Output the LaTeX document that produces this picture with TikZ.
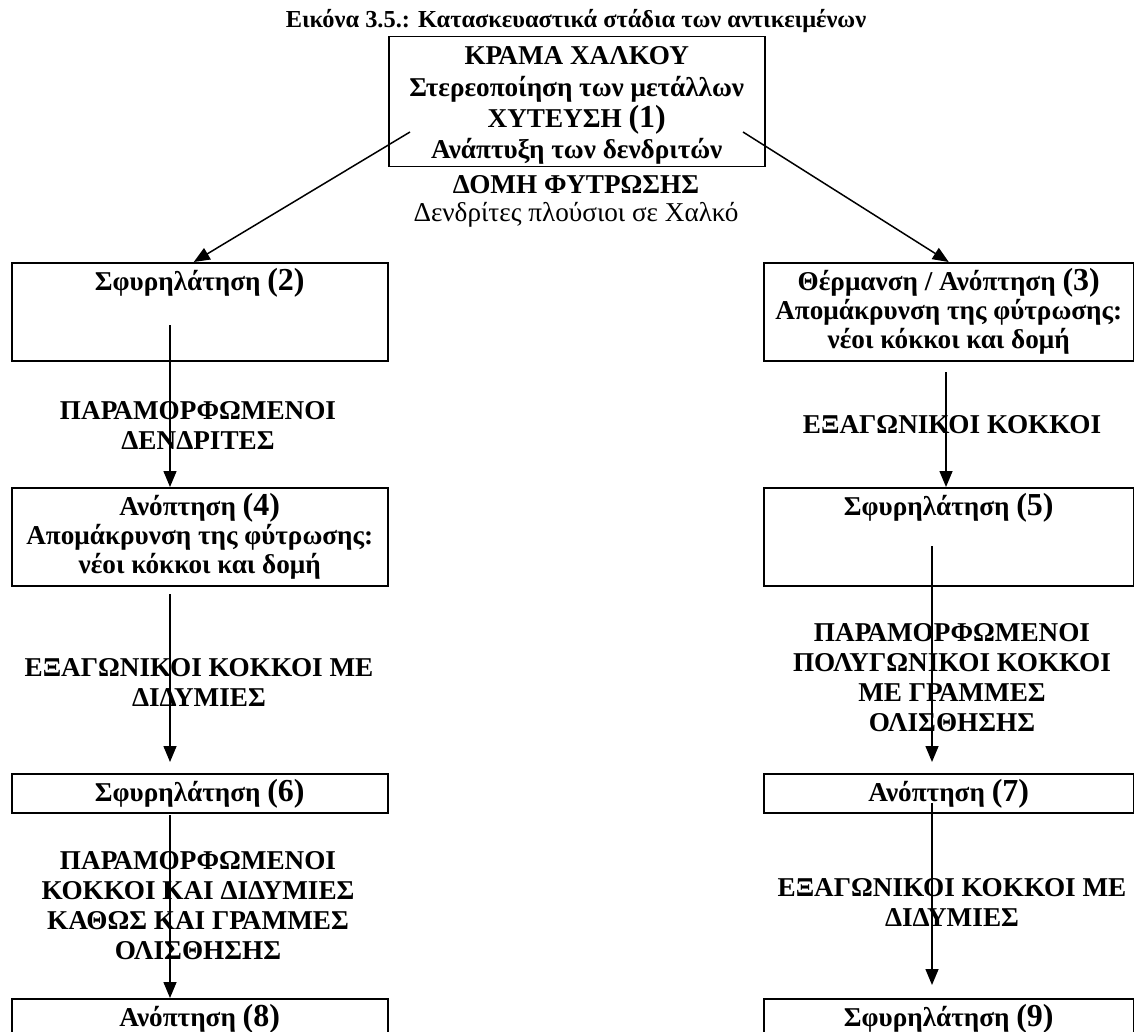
\documentclass[tikz,border=0pt]{standalone}
\usepackage{fontspec}
\setmainfont{Liberation Serif}
\usetikzlibrary{arrows.meta}

\newcommand{\nr}[1]{{\fontsize{16}{16}\selectfont #1}}
\newcommand{\stagebox}[3]{\parbox[c][#2][t]{#1}{\centering\rule{0pt}{14pt}#3}}

\tikzset{
  stage/.style={draw, line width=0.75pt, inner sep=0pt, anchor=north west,
    font=\fontsize{13.6}{14.5}\selectfont\bfseries},
  note/.style={align=center, inner sep=0pt, font=\fontsize{13.6}{15}\selectfont\bfseries},
  arr/.style={line width=0.75pt, -{Triangle[length=8pt,width=6.5pt]}},
}

\begin{document}
\begin{tikzpicture}[x=0.5pt, y=-0.5pt]
  \clip (0,0) rectangle (1134,1032);
  %titolo
  \node[note, font=\fontsize{12.2}{14}\selectfont\bfseries] (title) at (576,21)
    {Εικόνα 3.5.: Κατασκευαστικά στάδια των αντικειμένων};
  %riquadri
  \node[stage] (b1) at (388,36) {\stagebox{188pt}{65pt}{\fontsize{13.6}{15.7}\selectfont
    ΚΡΑΜΑ ΧΑΛΚΟΥ\\Στερεοποίηση των μετάλλων\\ΧΥΤΕΥΣΗ \nr{(1)}\\Ανάπτυξη των δενδριτών}};
  \node[note] (struct) at (576,201) {ΔΟΜΗ ΦΥΤΡΩΣΗΣ\\[-1pt]{\mdseries Δενδρίτες πλούσιοι σε Χαλκό}};
  \node[stage] (b2) at (11,262) {\stagebox{188pt}{49pt}{Σφυρηλάτηση \nr{(2)}}};
  \node[stage] (b3) at (763,262) {\stagebox{185pt}{49pt}{Θέρμανση / Ανόπτηση \nr{(3)}\\
    Απομάκρυνση της φύτρωσης:\\νέοι κόκκοι και δομή}};
  \node[stage] (b4) at (11,487) {\stagebox{188pt}{49pt}{Ανόπτηση \nr{(4)}\\
    Απομάκρυνση της φύτρωσης:\\νέοι κόκκοι και δομή}};
  \node[stage] (b5) at (763,487) {\stagebox{185pt}{49pt}{Σφυρηλάτηση \nr{(5)}}};
  \node[stage] (b6) at (11,773) {\stagebox{188pt}{19.5pt}{Σφυρηλάτηση \nr{(6)}}};
  \node[stage] (b7) at (763,773) {\stagebox{185pt}{19.5pt}{Ανόπτηση \nr{(7)}}};
  \node[stage] (b8) at (11,998) {\stagebox{188pt}{40pt}{Ανόπτηση \nr{(8)}}};
  \node[stage] (b9) at (763,998) {\stagebox{185pt}{40pt}{Σφυρηλάτηση \nr{(9)}}};
  %didascalie
  \node[note] (n24) at (198,425) {ΠΑΡΑΜΟΡΦΩΜΕΝΟΙ\\ΔΕΝΔΡΙΤΕΣ};
  \node[note] (n35) at (952,425) {ΕΞΑΓΩΝΙΚΟΙ ΚΟΚΚΟΙ};
  \node[note] (n46) at (199,682) {ΕΞΑΓΩΝΙΚΟΙ ΚΟΚΚΟΙ ΜΕ\\ΔΙΔΥΜΙΕΣ};
  \node[note] (n57) at (952,678) {ΠΑΡΑΜΟΡΦΩΜΕΝΟΙ\\ΠΟΛΥΓΩΝΙΚΟΙ ΚΟΚΚΟΙ\\ΜΕ ΓΡΑΜΜΕΣ\\ΟΛΙΣΘΗΣΗΣ};
  \node[note] (n68) at (198,906) {ΠΑΡΑΜΟΡΦΩΜΕΝΟΙ\\ΚΟΚΚΟΙ ΚΑΙ ΔΙΔΥΜΙΕΣ\\ΚΑΘΩΣ ΚΑΙ ΓΡΑΜΜΕΣ\\ΟΛΙΣΘΗΣΗΣ};
  \node[note] (n79) at (952,902) {ΕΞΑΓΩΝΙΚΟΙ ΚΟΚΚΟΙ ΜΕ\\ΔΙΔΥΜΙΕΣ};
  %frecce
  \coordinate (d1) at (410,132);
  \coordinate (d2) at (743,132);
  \coordinate (s2) at (170,325);
  \coordinate (s4) at (170,594);
  \coordinate (s6) at (170,815);
  \coordinate (s3) at (946,372);
  \coordinate (s5) at (932,546);
  \coordinate (s7) at (932,803);
  \draw[arr] (d1) -- ([xshift=-3pt]b2.north);
  \draw[arr] (d2) -- (b3.north);
  \draw[arr] (s2) -- (s2 |- b4.north);
  \draw[arr, shorten >=5.5pt] (s4) -- (s4 |- b6.north);
  \draw[arr] (s6) -- (s6 |- b8.north);
  \draw[arr] (s3) -- (s3 |- b5.north);
  \draw[arr, shorten >=5.5pt] (s5) -- (s5 |- b7.north);
  \draw[arr, shorten >=6.5pt] (s7) -- (s7 |- b9.north);
\end{tikzpicture}
\end{document}
